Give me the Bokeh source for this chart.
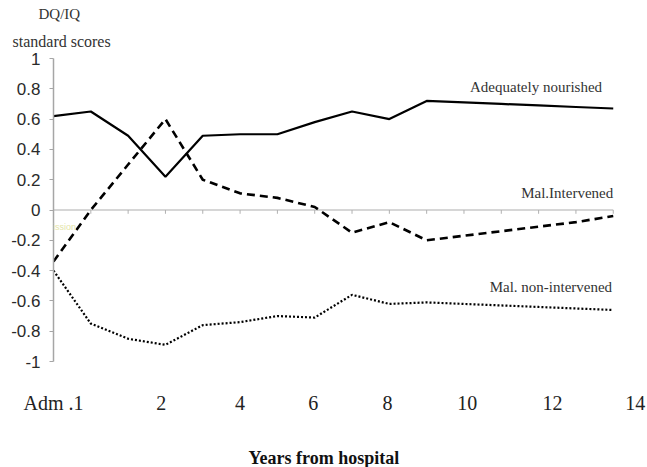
from bokeh.plotting import figure
from bokeh.models import Range1d, FixedTicker, Label, Title
from bokeh.embed import file_html
from bokeh.resources import INLINE

# ---- data ----
x_index = list(range(16))
adequately_nourished = [0.62, 0.65, 0.49, 0.22, 0.49, 0.50, 0.50, 0.58, 0.65, 0.60, 0.72, 0.71, 0.70, 0.69, 0.68, 0.67]
mal_intervened = [-0.34, 0.00, 0.30, 0.60, 0.20, 0.11, 0.08, 0.02, -0.15, -0.08, -0.20, -0.17, -0.14, -0.11, -0.08, -0.04]
mal_non_intervened = [-0.40, -0.75, -0.85, -0.89, -0.76, -0.74, -0.70, -0.71, -0.56, -0.62, -0.61, -0.62, -0.63, -0.64, -0.65, -0.66]
y_ticks = [-1, -0.8, -0.6, -0.4, -0.2, 0, 0.2, 0.4, 0.6, 0.8, 1]
y_tick_labels = ["-1", "-0.8", "-0.6", "-0.4", "-0.2", "0", "0.2", "0.4", "0.6", "0.8", "1"]
x_tick_labels = ["Adm .1", "2", "4", "6", "8", "10", "12", "14"]
x_tick_pos = [0.0, 2.89, 5.0, 6.96, 8.95, 11.09, 13.37, 15.59]

SERIF = "Liberation Serif"
SANS = "Liberation Sans"

p = figure(width=647, height=467, output_backend="svg", toolbar_location=None,
           x_range=Range1d(0, 15.65), y_range=Range1d(-1, 1),
           min_border_left=53, min_border_right=10, min_border_top=58, min_border_bottom=105)
p.outline_line_color = None
p.xgrid.visible = False
p.ygrid.visible = False
p.background_fill_color = "white"

# axis title above (two lines)
p.add_layout(Title(text="standard scores", align="left", offset=-41, standoff=18,
                   text_font=SERIF, text_font_size="16px", text_font_style="normal",
                   text_color="#333333"), "above")
p.add_layout(Title(text="DQ/IQ", align="left", offset=-15, standoff=0,
                   text_font=SERIF, text_font_size="15px", text_font_style="normal",
                   text_color="#333333"), "above")

# y axis
p.yaxis.ticker = FixedTicker(ticks=y_ticks)
p.yaxis.major_label_overrides = {t: l for t, l in zip(y_ticks, y_tick_labels)}
p.yaxis.axis_line_color = "#a6a6a6"
p.yaxis.axis_line_width = 1.5
p.yaxis.major_tick_line_color = "#a6a6a6"
p.yaxis.major_tick_out = 4
p.yaxis.major_tick_in = 0
p.yaxis.minor_tick_line_color = None
p.yaxis.major_label_standoff = 9
p.yaxis.major_label_text_font = SANS
p.yaxis.major_label_text_font_size = "17px"
p.yaxis.major_label_text_color = "#2a2a2a"

# x axis (labels only)
p.xaxis.ticker = FixedTicker(ticks=x_tick_pos)
p.xaxis.major_label_overrides = {t: l for t, l in zip(x_tick_pos, x_tick_labels)}
p.xaxis.axis_line_color = None
p.xaxis.major_tick_line_color = None
p.xaxis.major_tick_out = 0
p.xaxis.major_tick_in = 0
p.xaxis.minor_tick_line_color = None
p.xaxis.minor_tick_out = 0
p.xaxis.major_label_standoff = 30
p.xaxis.major_label_text_font = SERIF
p.xaxis.major_label_text_font_size = "20px"
p.xaxis.major_label_text_color = "#222222"
p.xaxis.axis_label = "\u00a0"
p.xaxis.axis_label_text_font_size = "2px"
p.xaxis.axis_label_standoff = 24

p.add_layout(Title(text="Years from hospital", align="left", offset=195, standoff=0,
                   text_font=SERIF, text_font_size="18px", text_font_style="bold",
                   text_color="#111111"), "below")

# category axis at zero with small ticks
p.line(x=[x_index[0], x_index[-1]], y=[0, 0], line_color="#c8c8c8", line_width=1.5)
p.segment(x0=x_index, y0=[0] * len(x_index), x1=x_index, y1=[-0.025] * len(x_index),
          line_color="#b0b0b0", line_width=1)

# series
p.line(x_index, adequately_nourished, line_color="black", line_width=2.2)
p.line(x_index, mal_intervened, line_color="black", line_width=2.6, line_dash="8 5")
p.line(x_index, mal_non_intervened, line_color="black", line_width=2.2, line_dash="2 2")

# texts
def lab(x, y, text, size, align="center", color="#333333", font=SERIF):
    p.add_layout(Label(x=x, y=y, text=text, text_font=font, text_font_size=size,
                       text_align=align, text_baseline="middle", text_color=color))

lab(14.7, 0.81, "Adequately nourished", "15px", align="right")
lab(15.0, 0.11, "Mal.Intervened", "15px", align="right")
lab(14.97, -0.51, "Mal. non-intervened", "15px", align="right")
lab(0.05, -0.11, "Admission", "9px", color="#e4e4a8", font=SANS)

open("out.html", "w").write(file_html(p, INLINE))
